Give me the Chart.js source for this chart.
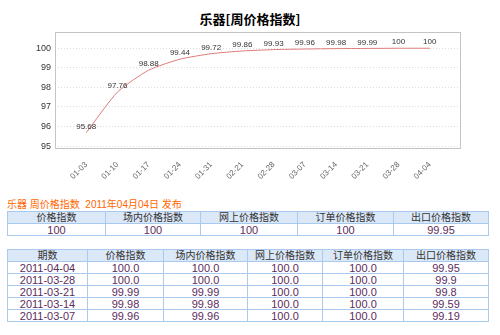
<!DOCTYPE html>
<html>
<head>
<meta charset="utf-8">
<script src="https://cdn.jsdelivr.net/npm/chart.js@4.4.1/dist/chart.umd.min.js"></script>
<style>
  body { margin: 0; background: #fff; width: 500px; height: 335px; position: relative; overflow: hidden; }
  #title { position: absolute; top: 9px; left: 0; width: 500px; text-align: center; font: bold 13px "Noto Sans CJK SC", sans-serif; color: #000; }
  #chart { position: absolute; top: 0; left: 0; }
  #pub { position: absolute; left: 7px; top: 196px; font: 10px "Liberation Sans", "Noto Sans CJK SC", sans-serif; color: #ff6600; white-space: pre; }
  table { position: absolute; left: 7px; border-collapse: collapse; table-layout: fixed; font: 11px "Liberation Sans", "Noto Sans CJK SC", sans-serif; }
  th, td { border: 1px solid #a9c9ee; padding: 0; text-align: center; line-height: 10px; height: 10px; overflow: hidden; white-space: nowrap; }
  th { background: #dbe8f8; font-weight: normal; font-size: 10px; color: #333; }
  td { color: #5c2d5c; }
</style>
</head>
<body>
<div id="title">乐器[周价格指数]</div>
<canvas id="chart" width="500" height="180"></canvas>
<div id="pub">乐器 周价格指数  2011年04月04日 发布</div>
<table id="summary"></table>
<table id="history"></table>
<script>
// weekly index
const weeks = ["01-03", "01-10", "01-17", "01-24", "01-31", "02-21", "02-28", "03-07", "03-14", "03-21", "03-28", "04-04"]
const priceIndex = [95.68, 97.76, 98.88, 99.44, 99.72, 99.86, 99.93, 99.96, 99.98, 99.99, 100, 100]
const yTicks = [95, 96, 97, 98, 99, 100]

// tables below the chart
const summaryHeaders = ["价格指数", "场内价格指数", "网上价格指数", "订单价格指数", "出口价格指数"]
const summaryValues = ["100", "100", "100", "100", "99.95"]

const historyHeaders = ["期数", "价格指数", "场内价格指数", "网上价格指数", "订单价格指数", "出口价格指数"]
const historyDates = ["2011-04-04", "2011-03-28", "2011-03-21", "2011-03-14", "2011-03-07"]
const historyPrice = ["100.0", "100.0", "99.99", "99.98", "99.96"]
const historyMarket = ["100.0", "100.0", "99.99", "99.98", "99.96"]
const historyOnline = ["100.0", "100.0", "100.0", "100.0", "100.0"]
const historyOrder = ["100.0", "100.0", "100.0", "100.0", "100.0"]
const historyExport = ["99.95", "99.9", "99.8", "99.59", "99.19"]

function buildTable(el, top, widths, headers, rows, headH, rowH) {
    el.style.top = top + "px"
    let html = "<colgroup>" + widths.map(w => `<col style="width:${w}px">`).join("") + "</colgroup>"
    html += `<tr style="height:${headH}px">` + headers.map(h => `<th>${h}</th>`).join("") + "</tr>"
    rows.forEach(r => {
        html += `<tr style="height:${rowH}px">` + r.map(c => `<td>${c}</td>`).join("") + "</tr>"
    })
    el.innerHTML = html
}

buildTable(document.getElementById("summary"), 211, [98, 95, 97, 96, 95],
    summaryHeaders, [summaryValues], 12, 12)

const historyRows = historyDates.map((d, i) =>
    [d, historyPrice[i], historyMarket[i], historyOnline[i], historyOrder[i], historyExport[i]])
buildTable(document.getElementById("history"), 249, [80, 76, 84, 75, 81, 85],
    historyHeaders, historyRows, 12, 12)

// box round the plot area and value labels over each point
const plotFrame = {
    id: "plotFrame",
    afterDraw(chart) {
        const { ctx, chartArea: a } = chart
        ctx.save()
        ctx.strokeStyle = "#c4c4c4"
        ctx.lineWidth = 1
        ctx.strokeRect(a.left + 0.5, a.top + 0.5, a.right - a.left - 1, a.bottom - a.top - 1)
        ctx.restore()
    }
}

const valueLabels = {
    id: "valueLabels",
    afterDatasetsDraw(chart) {
        const { ctx } = chart
        const meta = chart.getDatasetMeta(0)
        ctx.save()
        ctx.font = "8px 'Liberation Sans', sans-serif"
        ctx.fillStyle = "#333"
        ctx.textAlign = "center"
        ctx.textBaseline = "middle"
        meta.data.forEach((pt, i) => {
            ctx.fillText(String(priceIndex[i]), pt.x, pt.y - 6)
        })
        ctx.restore()
    }
}

new Chart(document.getElementById("chart"), {
    type: "line",
    data: {
        datasets: [{
            data: priceIndex.map((v, i) => ({ x: i, y: v })),
            borderColor: "#e07a7a",
            borderWidth: 1,
            pointRadius: 0,
            tension: 0.2,
            fill: false
        }]
    },
    options: {
        responsive: false,
        animation: false,
        layout: { padding: { top: 32, left: 0, right: 39, bottom: 0 } },
        plugins: { legend: { display: false }, tooltip: { enabled: false } },
        scales: {
            x: {
                type: "linear",
                min: -1,
                max: 12,
                afterBuildTicks: s => { s.ticks = weeks.map((w, i) => ({ value: i })) },
                afterFit: s => { s.height = 31 },
                grid: { display: false },
                border: { display: false },
                ticks: {
                    autoSkip: false,
                    minRotation: 45,
                    maxRotation: 45,
                    padding: 3,
                    color: "#666",
                    font: { size: 8, family: "'Liberation Sans', sans-serif" },
                    callback: v => weeks[v]
                }
            },
            y: {
                min: 94.85,
                max: 100.83,
                afterBuildTicks: s => { s.ticks = yTicks.map(v => ({ value: v })) },
                afterFit: s => { s.width = 55 },
                grid: { color: "#dcdcdc", drawTicks: false },
                border: { display: false, dash: [1, 2] },
                ticks: {
                    padding: 4,
                    color: "#333",
                    font: { size: 9, family: "'Liberation Sans', sans-serif" }
                }
            }
        }
    },
    plugins: [plotFrame, valueLabels]
})
</script>
</body>
</html>
